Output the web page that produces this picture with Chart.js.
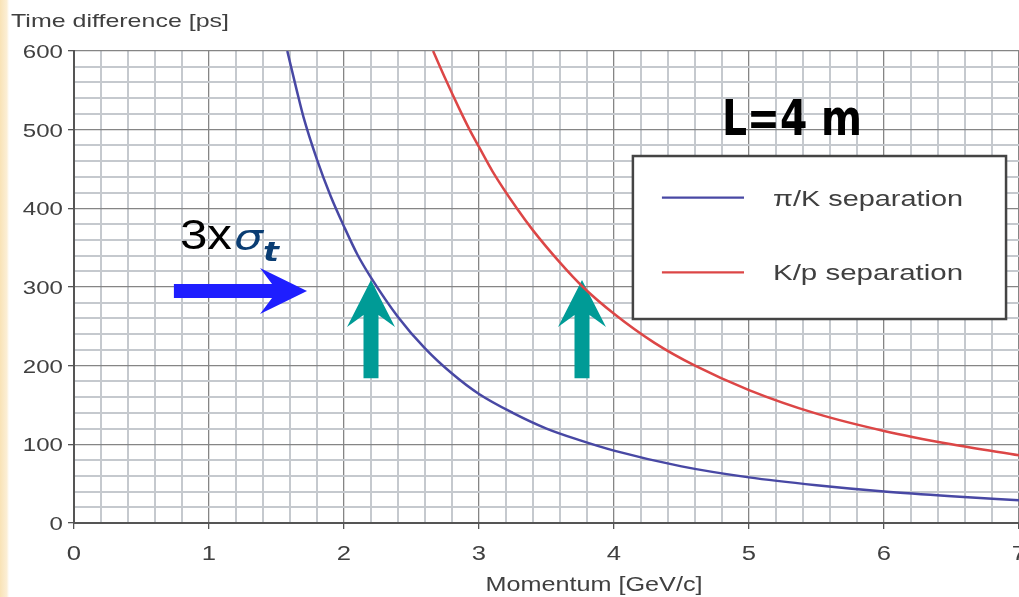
<!DOCTYPE html>
<html>
<head>
<meta charset="utf-8">
<script src="https://cdn.jsdelivr.net/npm/chart.js@4.4.1/dist/chart.umd.min.js"></script>
<style>
  html, body { margin: 0; padding: 0; background: #fff; }
  #wrap { width: 1019px; height: 597px; position: relative; }
</style>
</head>
<body>
<div id="wrap"><canvas id="myChart"></canvas></div>
<script>
// values
const piKMomentum = [1.58, 1.65, 1.7, 1.8, 1.9, 2.0, 2.1, 2.2, 2.4, 2.6, 2.8, 3.0, 3.25, 3.5, 3.75, 4.0, 4.5, 5.0, 5.5, 6.0, 6.5, 7.0];
const piKDiff = [600, 550, 516, 462, 416, 377, 341, 312, 262, 222, 190, 164, 140, 120, 105, 92, 72, 58, 48, 40, 34, 29];

const kpMomentum = [2.66, 2.75, 2.85, 2.93, 3.0, 3.1, 3.28, 3.4, 3.6, 3.77, 4.0, 4.3, 4.6, 5.0, 5.5, 6.0, 6.5, 7.0];
const kpDiff = [600, 565, 528, 500, 478, 447, 400, 372, 331, 300, 266, 229, 200, 169, 139, 117, 100, 86];

const xTickLabels = ['0', '1', '2', '3', '4', '5', '6', '7'];
const yTickLabels = ['0', '100', '200', '300', '400', '500', '600'];

const seriesNames = ['\u03c0/K separation', 'K/p separation'];
const seriesColors = ['#4848a4', '#dc4646'];

const FONT = '"Liberation Sans", Arial, Helvetica, sans-serif';
const TEXT = '#404040';

const xMajor = v => Math.abs(v - Math.round(v)) < 1e-6;
const yMajor = v => Math.abs(v / 100 - Math.round(v / 100)) < 1e-6;

// text drawn with horizontal stretch like the source slide
function drawText(ctx, text, x, y, font, color, opts) {
    opts = opts || {};
    ctx.save();
    ctx.font = font;
    ctx.fillStyle = color;
    ctx.textBaseline = opts.baseline || 'alphabetic';
    const w = ctx.measureText(text).width;
    const sx = opts.width ? opts.width / w : (opts.stretch || 1);
    ctx.translate(x, y);
    ctx.scale(sx, 1);
    let dx = 0;
    if (opts.align === 'right') dx = -w;
    if (opts.align === 'center') dx = -w / 2;
    ctx.fillText(text, dx, 0);
    ctx.restore();
}

// stealth-style arrow from tail to tip (pixels)
function drawArrow(ctx, x0, y0, x1, y1, shaft, headLen, headHalf, notch, color) {
    const ang = Math.atan2(y1 - y0, x1 - x0);
    const len = Math.hypot(x1 - x0, y1 - y0);
    ctx.save();
    ctx.translate(x0, y0);
    ctx.rotate(ang);
    ctx.fillStyle = color;
    ctx.beginPath();
    ctx.moveTo(0, -shaft / 2);
    ctx.lineTo(len - headLen + notch, -shaft / 2);
    ctx.lineTo(len - headLen, -headHalf);
    ctx.lineTo(len, 0);
    ctx.lineTo(len - headLen, headHalf);
    ctx.lineTo(len - headLen + notch, shaft / 2);
    ctx.lineTo(0, shaft / 2);
    ctx.closePath();
    ctx.fill();
    ctx.restore();
}

const backgroundPlugin = {
    id: 'slideBackground',
    beforeDraw(chart) {
        const ctx = chart.ctx;
        ctx.save();
        ctx.fillStyle = '#ffffff';
        ctx.fillRect(0, 0, chart.width, chart.height);
        const g = ctx.createLinearGradient(0, 0, 10, 0);
        g.addColorStop(0, '#f9e3b6');
        g.addColorStop(0.7, '#fcefd6');
        g.addColorStop(1, 'rgba(255,255,255,0)');
        ctx.fillStyle = g;
        ctx.fillRect(0, 0, 10, chart.height);
        ctx.restore();
    }
};

const arrowPlugin = {
    id: 'arrows',
    beforeDatasetsDraw(chart) {
        const ctx = chart.ctx;
        const xs = chart.scales.x, ys = chart.scales.y;
        // 3 sigma marker
        drawArrow(ctx, xs.getPixelForValue(0.74), ys.getPixelForValue(295),
                  xs.getPixelForValue(1.726), ys.getPixelForValue(295), 14, 47, 23, 12, '#1e1eff');
        // the two momentum limits
        [2.2, 3.763].forEach(p => {
            drawArrow(ctx, xs.getPixelForValue(p), ys.getPixelForValue(184),
                      xs.getPixelForValue(p), ys.getPixelForValue(309), 15, 47, 24, 12, '#009b96');
        });
    }
};

const labelPlugin = {
    id: 'labels',
    afterDraw(chart) {
        const ctx = chart.ctx;
        const xs = chart.scales.x, ys = chart.scales.y;
        const area = chart.chartArea;

        // tick labels
        xTickLabels.forEach(t => {
            drawText(ctx, t, xs.getPixelForValue(Number(t)), area.bottom + 37,
                     '20.5px ' + FONT, TEXT, { align: 'center', stretch: 1.25 });
        });
        yTickLabels.forEach(t => {
            drawText(ctx, t, area.left - 11, ys.getPixelForValue(Number(t)) + 7,
                     '18.5px ' + FONT, TEXT, { align: 'right', stretch: 1.3 });
        });

        // axis titles
        drawText(ctx, 'Time difference [ps]', 11, 27, '19px ' + FONT, TEXT, { width: 218 });
        drawText(ctx, 'Momentum [GeV/c]', 594, 591, '19.5px ' + FONT, TEXT, { align: 'center', width: 217 });

        // legend box
        const bx0 = xs.getPixelForValue(4.14), bx1 = xs.getPixelForValue(6.904);
        const by0 = ys.getPixelForValue(466.5), by1 = ys.getPixelForValue(259.3);
        ctx.save();
        ctx.fillStyle = '#ffffff';
        ctx.fillRect(bx0, by0, bx1 - bx0, by1 - by0);
        ctx.strokeStyle = '#444';
        ctx.lineWidth = 2.5;
        ctx.strokeRect(bx0, by0, bx1 - bx0, by1 - by0);
        ctx.restore();

        const legendY = [413.5, 318.7];
        seriesNames.forEach((name, i) => {
            const ly = ys.getPixelForValue(legendY[i]);
            ctx.save();
            ctx.strokeStyle = seriesColors[i];
            ctx.lineWidth = 2.2;
            ctx.beginPath();
            ctx.moveTo(xs.getPixelForValue(4.355), ly);
            ctx.lineTo(xs.getPixelForValue(4.963), ly);
            ctx.stroke();
            ctx.restore();
            drawText(ctx, name, xs.getPixelForValue(5.178), ly + 8, '22px ' + FONT, TEXT, { width: 190 });
        });

        // annotations
        drawText(ctx, 'L=4 m', xs.getPixelForValue(4.8), ys.getPixelForValue(493),
                 'bold 50px "Comic Sans MS", "DejaVu Sans", sans-serif', '#000', { width: 140 });
        const sx = xs.getPixelForValue(0.785), sy = ys.getPixelForValue(348);
        drawText(ctx, '3x', sx, sy, '42px ' + FONT, '#000', { width: 52 });
        drawText(ctx, '\u03c3', sx + 54, sy + 1, 'italic 36px "DejaVu Sans", sans-serif', '#0a3d73', { width: 29 });
        drawText(ctx, 't', sx + 83, sy + 12, 'italic bold 26px "DejaVu Sans", sans-serif', '#0a3d73', { width: 16 });
    }
};

const ctx = document.getElementById('myChart').getContext('2d');

new Chart(ctx, {
    type: 'line',
    data: {
        datasets: [{
            label: seriesNames[0],
            data: piKMomentum.map((p, i) => ({ x: p, y: piKDiff[i] })),
            borderColor: seriesColors[0],
            borderWidth: 2.5,
            pointRadius: 0,
            cubicInterpolationMode: 'monotone',
            fill: false
        }, {
            label: seriesNames[1],
            data: kpMomentum.map((p, i) => ({ x: p, y: kpDiff[i] })),
            borderColor: seriesColors[1],
            borderWidth: 2.5,
            pointRadius: 0,
            cubicInterpolationMode: 'monotone',
            fill: false
        }]
    },
    options: {
        responsive: true,
        maintainAspectRatio: false,
        animation: false,
        layout: {
            autoPadding: false,
            padding: { top: 51, left: 0, right: 0, bottom: 0 }
        },
        plugins: {
            legend: { display: false },
            tooltip: { enabled: false }
        },
        scales: {
            x: {
                type: 'linear',
                min: 0,
                max: 7,
                ticks: { stepSize: 0.2, display: false },
                grid: {
                    color: c => xMajor(c.tick.value) ? '#858585' : '#c5c9ce',
                    lineWidth: c => xMajor(c.tick.value) ? 1.3 : 2,
                    tickLength: 6,
                    tickColor: c => xMajor(c.tick.value) ? '#555' : 'rgba(0,0,0,0)'
                },
                border: { color: '#555', width: 2 },
                afterFit: s => { s.height = 74; }
            },
            y: {
                type: 'linear',
                min: 0,
                max: 600,
                ticks: { stepSize: 20, display: false },
                grid: {
                    color: c => yMajor(c.tick.value) ? '#858585' : '#c5c9ce',
                    lineWidth: c => yMajor(c.tick.value) ? 1.3 : 2,
                    tickLength: 6,
                    tickColor: c => yMajor(c.tick.value) ? '#555' : 'rgba(0,0,0,0)'
                },
                border: { color: '#555', width: 2 },
                afterFit: s => { s.width = 74; }
            }
        }
    },
    plugins: [backgroundPlugin, arrowPlugin, labelPlugin]
});
</script>
</body>
</html>
